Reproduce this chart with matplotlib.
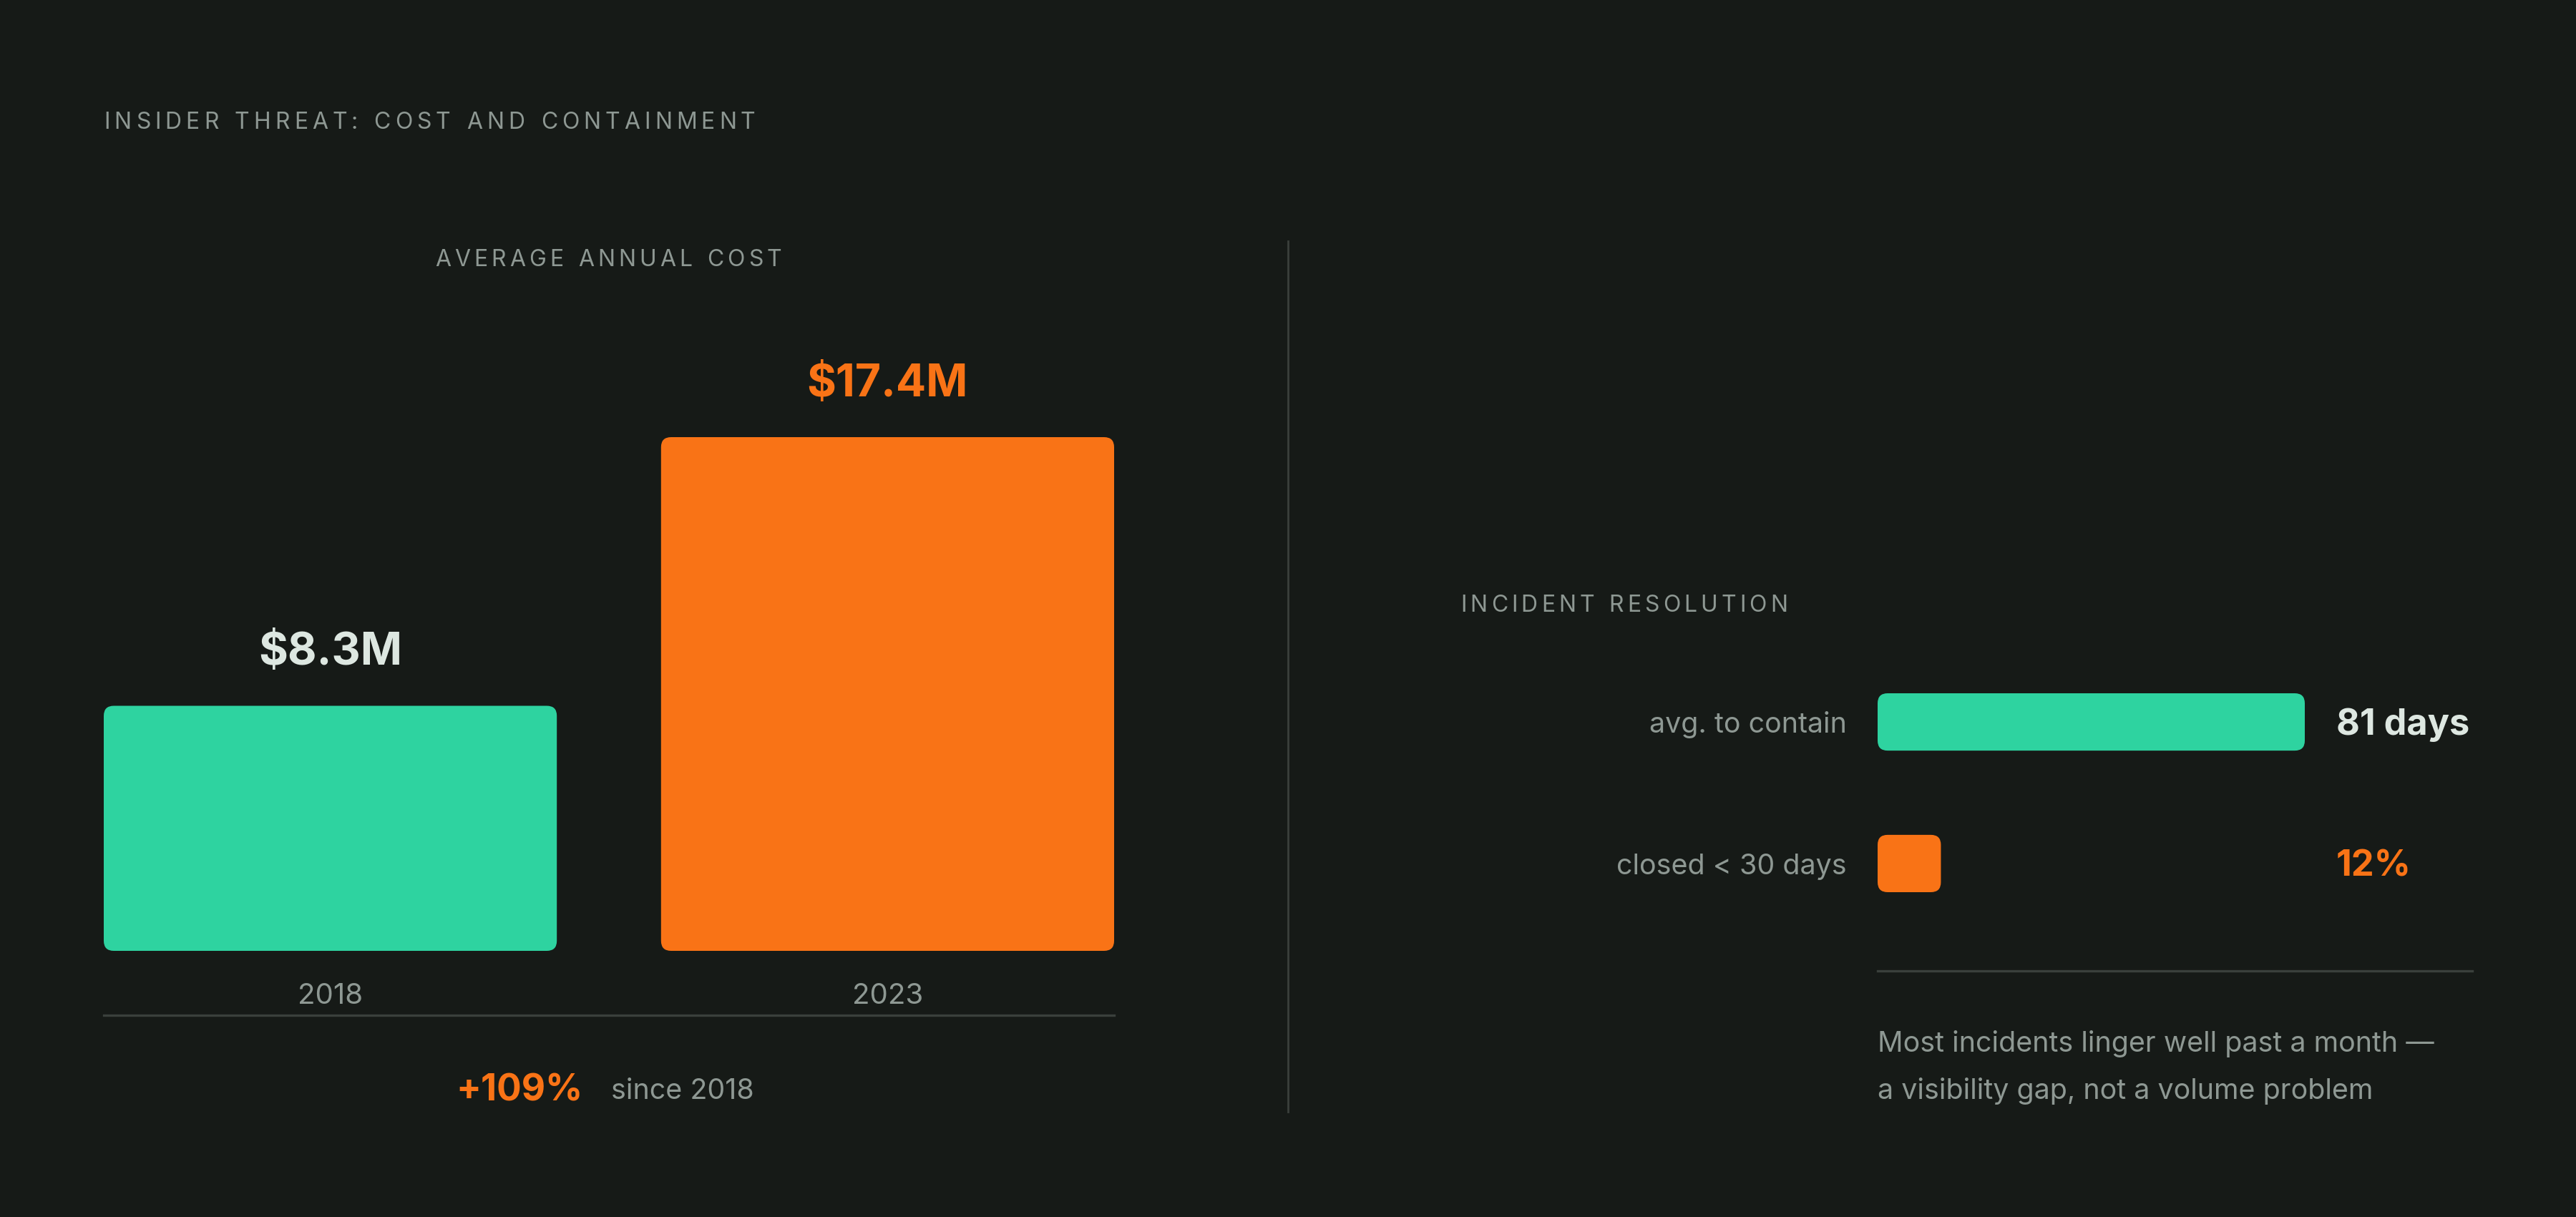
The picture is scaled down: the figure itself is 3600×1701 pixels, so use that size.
import matplotlib
matplotlib.use("Agg")
import matplotlib.pyplot as plt
from matplotlib.patches import FancyBboxPatch
from matplotlib.font_manager import FontProperties

# data
years = ["2018", "2023"]
cost = [8.3, 17.4]            # $M
cost_labels = ["$8.3M", "$17.4M"]
change_label = "+109%"
res_labels = ["avg. to contain", "closed < 30 days"]
res_values = [81, 12]
res_value_labels = ["81 days", "12%"]
note = ["Most incidents linger well past a month \u2014",
        "a visibility gap, not a volume problem"]

BG = "#161a17"
TEAL = "#2ed3a0"
ORANGE = "#f97316"
MUTED = "#8e9893"
LIGHT = "#dde7e1"
RULE = "#3a403c"
FONT = "Inter"

W, H, DPI = 3600, 1701, 200
plt.rcParams["font.family"] = [FONT, "DejaVu Sans"]
fig = plt.figure(figsize=(W / DPI, H / DPI), dpi=DPI, facecolor=BG)


def fx(px):
    return px / W


def fy(py):
    return 1 - py / H


def spaced(x, y, s, size, color, track=0.16, ha="left"):
    # matplotlib has no letter-spacing, so place letters one by one
    r = fig.canvas.get_renderer()
    fp = FontProperties(family=FONT, size=size)
    gap = track * size * DPI / 72
    ws = [r.get_text_width_height_descent(c if c != " " else "n", fp, ismath=False)[0] * (0.55 if c == " " else 1) for c in s]
    total = sum(ws) + gap * (len(s) - 1)
    if ha == "center":
        x = x - total / 2
    for c, w in zip(s, ws):
        fig.text(fx(x), fy(y), c, fontproperties=fp, color=color, va="center", ha="left")
        x += w + gap


def round_bars(ax, bars, r_px):
    pos = ax.get_position()
    wpx = pos.width * W
    hpx = pos.height * H
    x0, x1 = ax.get_xlim()
    y0, y1 = ax.get_ylim()
    px_x = wpx / abs(x1 - x0)
    px_y = hpx / abs(y1 - y0)
    for b in bars:
        b.set_visible(False)
        p = FancyBboxPatch((b.get_x(), b.get_y()), b.get_width(), b.get_height(),
                           boxstyle="round,pad=0,rounding_size=%f" % (r_px / px_x),
                           mutation_aspect=px_x / px_y,
                           fc=b.get_facecolor(), ec="none", clip_on=False)
        ax.add_patch(p)


def clean(ax):
    ax.set_facecolor("none")
    for s in ax.spines.values():
        s.set_visible(False)
    ax.set_xticks([])
    ax.set_yticks([])


# ---- left: annual cost columns
axL = fig.add_axes([fx(145), fy(1329), fx(1412), 718 / H])
clean(axL)
xs = list(range(len(years)))
bars = axL.bar(xs, cost, width=0.813, color=[TEAL, ORANGE])
axL.set_xlim(-0.4065, 1.4065)
axL.set_ylim(0, 17.4)
round_bars(axL, bars, 14)

for i in xs:
    axL.annotate(cost_labels[i], (xs[i], cost[i]), xytext=(0, 26.5), textcoords="offset points",
                 ha="center", va="center", fontsize=22.5, fontweight="bold",
                 color=LIGHT if i == 0 else ORANGE)
    axL.annotate(years[i], (xs[i], 0), xytext=(0, -23), textcoords="offset points",
                 ha="center", va="center", fontsize=14.5, color=MUTED)
axL.plot([0, 1], [-0.1253, -0.1253], transform=axL.transAxes, color=RULE, lw=1.2, clip_on=False)

spaced(850, 364, "AVERAGE ANNUAL COST", 11.5, MUTED, ha="center")
fig.text(fx(815), fy(1525), change_label, ha="right", va="center", fontsize=18.5,
         fontweight="bold", color=ORANGE)
fig.text(fx(854), fy(1525), "since 2018", ha="left", va="center", fontsize=14.2, color=MUTED)

# title + divider
spaced(145, 172, "INSIDER THREAT: COST AND CONTAINMENT", 11.5, MUTED, track=0.19)
fig.add_artist(plt.Line2D([fx(1800), fx(1800)], [fy(337), fy(1554)], color=RULE, lw=1))

# ---- right: incident resolution
axR = fig.add_axes([fx(2624), fy(1247), fx(831), 278 / H])
clean(axR)
ys = list(range(len(res_labels)))
hb = axR.barh(ys, res_values, height=0.405, color=[TEAL, ORANGE])
axR.set_xlim(0, 112.75)
axR.set_ylim(1.2025, -0.2025)
round_bars(axR, hb, 14)

for i in ys:
    axR.annotate(res_labels[i], (0, ys[i]), xytext=(-15.5, -1.5), textcoords="offset points",
                 ha="right", va="center", fontsize=14.2, color=MUTED)
    axR.annotate(res_value_labels[i], (0, ys[i]), xytext=((3265 - 2624) / DPI * 72, -1.5),
                 textcoords="offset points", ha="left", va="center", fontsize=18.2,
                 fontweight="bold", color=LIGHT if i == 0 else ORANGE)

spaced(2041, 846, "INCIDENT RESOLUTION", 11.5, MUTED)
fig.add_artist(plt.Line2D([fx(2624), fx(3455)], [fy(1357), fy(1357)], color=RULE, lw=1.2))
for k, line in enumerate(note):
    fig.text(fx(2624), fy(1459 + 66 * k), line, ha="left", va="center", fontsize=14.2, color=MUTED)

fig.savefig("out.png", dpi=DPI, facecolor=BG)
